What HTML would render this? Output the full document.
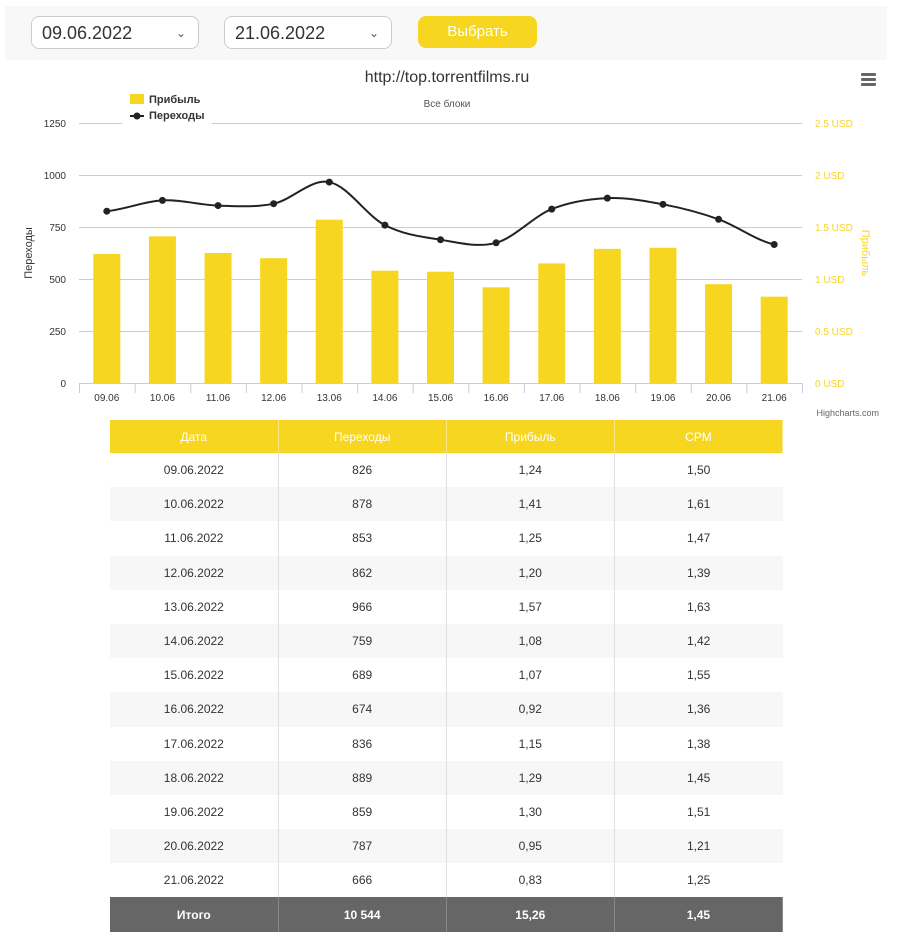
<!DOCTYPE html>
<html><head><meta charset="utf-8"><style>
body{margin:0;width:903px;height:941px;background:#fff;font-family:"Liberation Sans",sans-serif;position:relative;overflow:hidden}
.top{position:absolute;left:5px;top:6px;width:882px;height:54px;background:#f8f8f8}
.sel{position:absolute;top:16px;height:33px;border:1px solid #ccc;border-radius:8px;background:#fff;font-size:18px;color:#333;line-height:33px;padding-left:10px;box-sizing:border-box}
.btn{position:absolute;left:418px;top:16px;width:119px;height:32px;border-radius:8px;background:#f7d622;color:#fff;font-size:15px;text-align:center;line-height:32px}
table{position:absolute;left:110px;top:420px;border-collapse:collapse;width:673px;font-size:12px;color:#333}
td{height:34.2px;text-align:center;padding:0;border-right:1px solid #e0e0e0;width:25%}
td:last-child{border-right:none}
tr:nth-child(odd) td{background:#f7f7f7}
tr.h td{background:#f7d622;color:#fff;height:33px;border-right:1px solid #fbe88a}
tr.t td{background:#666;color:#fff;font-weight:bold;border-right:1px solid #888}
</style></head><body>
<div class="top"></div>
<div class="sel" style="left:31px;width:168px">09.06.2022<span style="position:absolute;right:12px;font-size:12px;color:#555">&#8964;</span></div>
<div class="sel" style="left:224px;width:168px">21.06.2022<span style="position:absolute;right:12px;font-size:12px;color:#555">&#8964;</span></div>
<div class="btn">Выбрать</div>
<svg id="c" width="903" height="420" style="position:absolute;left:0;top:0" font-family="Liberation Sans, sans-serif">
<text x="447" y="82" text-anchor="middle" font-size="16" fill="#333">http://top.torrentfilms.ru</text>
<g fill="#666"><rect x="861" y="73" width="15" height="3" rx="1"/><rect x="861" y="78" width="15" height="3" rx="1"/><rect x="861" y="83" width="15" height="3" rx="1"/></g>
<text x="447" y="107" text-anchor="middle" font-size="10" fill="#555">Все блоки</text>
<g stroke="#ccc" stroke-width="1">
<line x1="79" x2="802" y1="123.5" y2="123.5"/><line x1="79" x2="802" y1="175.5" y2="175.5"/><line x1="79" x2="802" y1="227.5" y2="227.5"/><line x1="79" x2="802" y1="279.5" y2="279.5"/><line x1="79" x2="802" y1="331.5" y2="331.5"/>
</g>
<rect x="122" y="90" width="90" height="38" fill="#fff"/>
<rect x="130" y="94" width="14" height="10" fill="#f7d622"/>
<text x="149" y="103" font-size="11" font-weight="bold" fill="#333">Прибыль</text>
<line x1="130" x2="144" y1="116" y2="116" stroke="#222" stroke-width="2"/><circle cx="137" cy="116" r="3.5" fill="#222"/>
<text x="149" y="119" font-size="11" font-weight="bold" fill="#333">Переходы</text>
<g font-size="10" fill="#333" text-anchor="end">
<text x="66" y="127">1250</text><text x="66" y="179">1000</text><text x="66" y="231">750</text><text x="66" y="283">500</text><text x="66" y="335">250</text><text x="66" y="387">0</text></g>
<g font-size="10" fill="#f7d622">
<text x="815" y="127">2.5 USD</text><text x="815" y="179">2 USD</text><text x="815" y="231">1.5 USD</text><text x="815" y="283">1 USD</text><text x="815" y="335">0.5 USD</text><text x="815" y="387">0 USD</text></g>
<text transform="translate(32,253) rotate(-90)" text-anchor="middle" font-size="11" fill="#333">Переходы</text>
<text transform="translate(862,253) rotate(90)" text-anchor="middle" font-size="11" fill="#f7d622">Прибыль</text>
<g id="bars" fill="#f7d622"></g>
<line x1="79" x2="802" y1="383.5" y2="383.5" stroke="#c0d0e0"/>
<g id="ticks" stroke="#c0d0e0"></g>
<g id="xl" font-size="10" fill="#333" text-anchor="middle"></g>
<path id="ln" fill="none" stroke="#222" stroke-width="2"/>
<g id="pts" fill="#222"></g>
<text x="879" y="416" text-anchor="end" font-size="9" fill="#666">Highcharts.com</text>
</svg>
<table>
<tr class="h"><td>Дата</td><td>Переходы</td><td>Прибыль</td><td>CPM</td></tr>
<tr><td>09.06.2022</td><td>826</td><td>1,24</td><td>1,50</td></tr>
<tr><td>10.06.2022</td><td>878</td><td>1,41</td><td>1,61</td></tr>
<tr><td>11.06.2022</td><td>853</td><td>1,25</td><td>1,47</td></tr>
<tr><td>12.06.2022</td><td>862</td><td>1,20</td><td>1,39</td></tr>
<tr><td>13.06.2022</td><td>966</td><td>1,57</td><td>1,63</td></tr>
<tr><td>14.06.2022</td><td>759</td><td>1,08</td><td>1,42</td></tr>
<tr><td>15.06.2022</td><td>689</td><td>1,07</td><td>1,55</td></tr>
<tr><td>16.06.2022</td><td>674</td><td>0,92</td><td>1,36</td></tr>
<tr><td>17.06.2022</td><td>836</td><td>1,15</td><td>1,38</td></tr>
<tr><td>18.06.2022</td><td>889</td><td>1,29</td><td>1,45</td></tr>
<tr><td>19.06.2022</td><td>859</td><td>1,30</td><td>1,51</td></tr>
<tr><td>20.06.2022</td><td>787</td><td>0,95</td><td>1,21</td></tr>
<tr><td>21.06.2022</td><td>666</td><td>0,83</td><td>1,25</td></tr>
<tr class="t"><td>Итого</td><td>10 544</td><td>15,26</td><td>1,45</td></tr>
</table>
<script>
var v=[826,878,853,862,966,759,689,674,836,889,859,787,666],p=[1.24,1.41,1.25,1.20,1.57,1.08,1.07,0.92,1.15,1.29,1.30,0.95,0.83];
var ns="http://www.w3.org/2000/svg",w=723/13,X=[],Y=[];
function el(t,a,par){var e=document.createElementNS(ns,t);for(var k in a)e.setAttribute(k,a[k]);document.getElementById(par).appendChild(e);return e}
for(var i=0;i<13;i++){var cx=79+w/2+i*w;X.push(cx);Y.push(383-v[i]*0.208);
var h=p[i]*104;el("rect",{x:cx-13.5,y:383-h,width:27,height:h},"bars");
el("line",{x1:79+i*w+.5,x2:79+i*w+.5,y1:383,y2:393},"ticks");
var t=el("text",{x:cx,y:401},"xl");t.textContent=(i+9<10?"0":"")+(i+9)+".06";
el("circle",{cx:cx,cy:Y[i],r:3.5},"pts");}
el("line",{x1:802.5,x2:802.5,y1:383,y2:393},"ticks");
var d="M"+X[0]+" "+Y[0];
for(var i=0;i<12;i++){var y0=Y[i-1<0?0:i-1],y3=Y[i+2>12?12:i+2];
var c1x=X[i]+w/3,c1y=Y[i]+(Y[i+1]-y0)/6,c2x=X[i+1]-w/3,c2y=Y[i+1]-(y3-Y[i])/6;
d+=" C"+c1x+" "+c1y+" "+c2x+" "+c2y+" "+X[i+1]+" "+Y[i+1];}
document.getElementById("ln").setAttribute("d",d);
</script>
</body></html>
